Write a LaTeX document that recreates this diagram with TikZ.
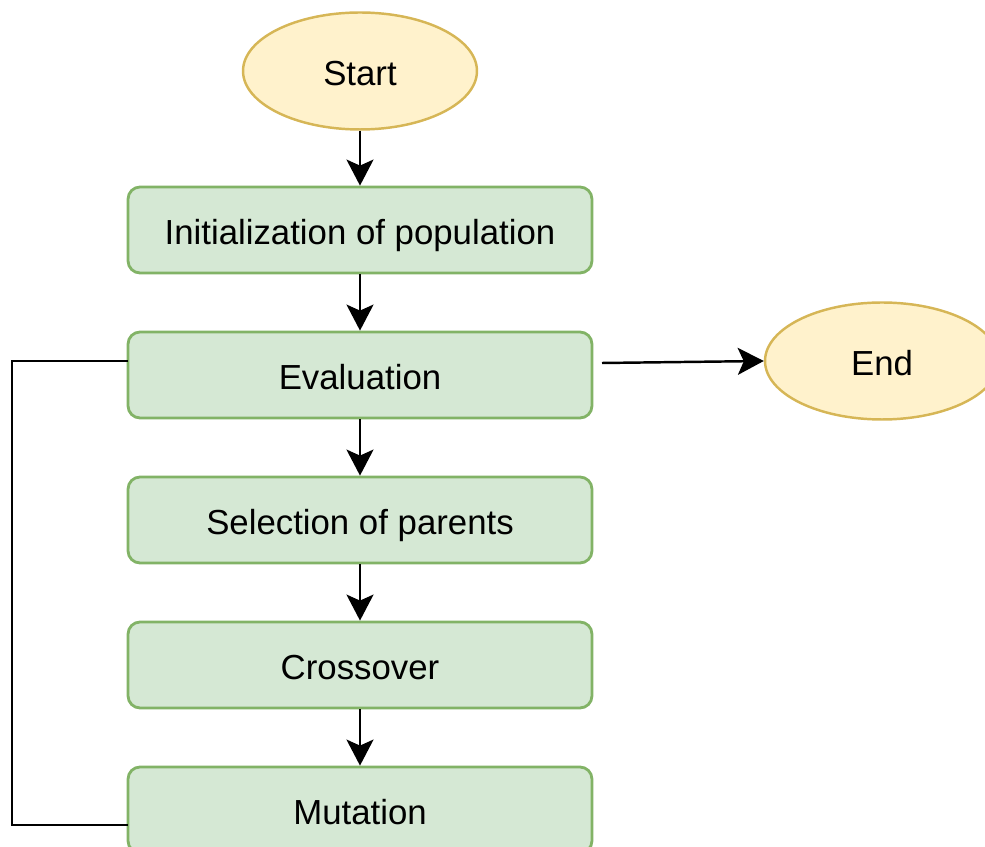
\documentclass[tikz,border=0pt]{standalone}
\usepackage{fontspec}
\setmainfont{Liberation Sans}
\usetikzlibrary{arrows.meta,shapes.geometric}
\definecolor{boxfill}{HTML}{D5E8D4}
\definecolor{boxline}{HTML}{82B366}
\definecolor{termfill}{HTML}{FFF2CC}
\definecolor{termline}{HTML}{D6B656}
\tikzset{
  labeltext/.style={font=\fontsize{19.8}{23}\selectfont, text height=16.6pt, text depth=0pt},
  stepbox/.style={draw=boxline, fill=boxfill, line width=1.6pt, rounded corners=0.24cm,
    minimum width=9.28cm, minimum height=1.72cm, inner sep=0pt, labeltext},
  terminal/.style={ellipse, draw=termline, fill=termfill, line width=1.4pt,
    minimum width=4.68cm, minimum height=2.34cm, inner sep=0pt, labeltext},
  flow/.style={line width=1.4pt, -{Stealth[length=0.52cm,width=0.54cm,inset=0.12cm]}},
  loopline/.style={line width=1.4pt}
}
\begin{document}
\begin{tikzpicture}[x=0.02cm,y=-0.02cm]
  \useasboundingbox (0,0) rectangle (985,847);
  % terminals
  \node[terminal] (start) at (360,71) {Start};
  \node[terminal] (end) at (882,361) {End};
  % steps of the algorithm
  \node[stepbox] (init) at (360,230) {Initialization of population};
  \node[stepbox] (eval) at (360,375) {Evaluation};
  \node[stepbox] (sel)  at (360,520) {Selection of parents};
  \node[stepbox] (cross) at (360,665) {Crossover};
  \node[stepbox] (mut)  at (360,810) {Mutation};
  % main flow
  \draw[flow] (start) -- (init);
  \draw[flow] (init) -- (eval);
  \draw[flow] (eval) -- (sel);
  \draw[flow] (sel) -- (cross);
  \draw[flow] (cross) -- (mut);
  \coordinate (evalout) at (602,363);
  \draw[flow] (evalout) -- (end.west);
  % feedback loop
  \coordinate (loopa) at (128,361);
  \coordinate (loopb) at (12,361);
  \coordinate (loopc) at (12,825);
  \coordinate (loopd) at (128,825);
  \draw[loopline] (loopa) -- (loopb) -- (loopc) -- (loopd);
\end{tikzpicture}
\end{document}
